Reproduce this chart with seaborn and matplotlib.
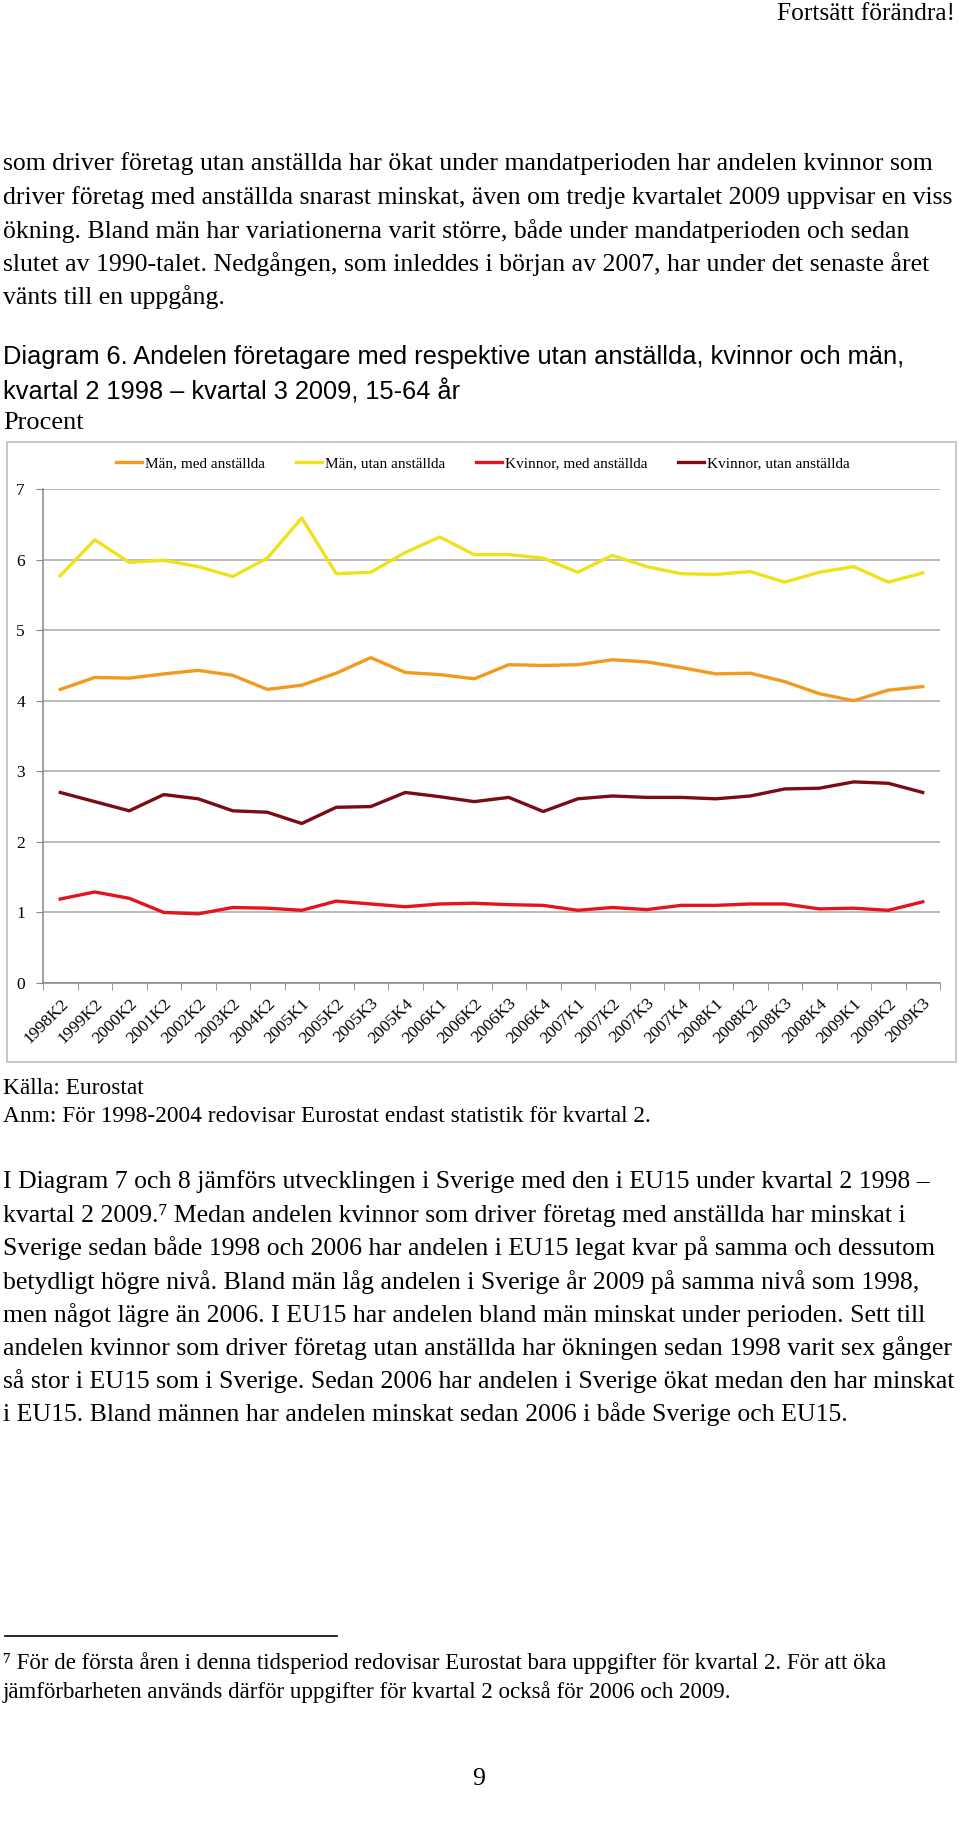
import numpy as np
import pandas as pd
import seaborn as sns
import matplotlib.pyplot as plt
from matplotlib.patches import Rectangle

W, H = 960, 1822

kvartal = ["1998K2", "1999K2", "2000K2", "2001K2", "2002K2", "2003K2", "2004K2",
           "2005K1", "2005K2", "2005K3", "2005K4", "2006K1", "2006K2", "2006K3",
           "2006K4", "2007K1", "2007K2", "2007K3", "2007K4", "2008K1", "2008K2",
           "2008K3", "2008K4", "2009K1", "2009K2", "2009K3"]
man_med = [4.16, 4.33, 4.32, 4.38, 4.43, 4.36, 4.16, 4.22, 4.39, 4.61, 4.40, 4.37, 4.31,
           4.51, 4.50, 4.51, 4.58, 4.55, 4.47, 4.38, 4.39, 4.27, 4.10, 4.00, 4.15, 4.20]
man_utan = [5.77, 6.28, 5.96, 5.99, 5.90, 5.76, 6.02, 6.59, 5.80, 5.82, 6.10, 6.32, 6.07,
            6.07, 6.02, 5.82, 6.06, 5.90, 5.80, 5.79, 5.83, 5.68, 5.82, 5.90, 5.68, 5.81]
kv_med = [1.19, 1.29, 1.20, 1.00, 0.98, 1.07, 1.06, 1.03, 1.16, 1.12, 1.08, 1.12, 1.13,
          1.11, 1.10, 1.03, 1.07, 1.04, 1.10, 1.10, 1.12, 1.12, 1.05, 1.06, 1.03, 1.15]
kv_utan = [2.70, 2.57, 2.44, 2.67, 2.61, 2.44, 2.42, 2.26, 2.49, 2.50, 2.70, 2.64, 2.57,
           2.63, 2.43, 2.61, 2.65, 2.63, 2.63, 2.61, 2.65, 2.75, 2.76, 2.85, 2.83, 2.70]

serier = ["Män, med anställda", "Män, utan anställda", "Kvinnor, med anställda", "Kvinnor, utan anställda"]
farger = ["#F39A1E", "#EFE21C", "#E3141C", "#7B0C14"]

stycke1 = [
    "som driver företag utan anställda har ökat under mandatperioden har andelen kvinnor som",
    "driver företag med anställda snarast minskat, även om tredje kvartalet 2009 uppvisar en viss",
    "ökning. Bland män har variationerna varit större, både under mandatperioden och sedan",
    "slutet av 1990-talet. Nedgången, som inleddes i början av 2007, har under det senaste året",
    "vänts till en uppgång.",
]
rubrik = ["Diagram 6. Andelen företagare med respektive utan anställda, kvinnor och män,",
          "kvartal 2 1998 – kvartal 3 2009, 15-64 år"]
stycke2 = [
    "I Diagram 7 och 8 jämförs utvecklingen i Sverige med den i EU15 under kvartal 2 1998 –",
    "kvartal 2 2009.⁷ Medan andelen kvinnor som driver företag med anställda har minskat i",
    "Sverige sedan både 1998 och 2006 har andelen i EU15 legat kvar på samma och dessutom",
    "betydligt högre nivå. Bland män låg andelen i Sverige år 2009 på samma nivå som 1998,",
    "men något lägre än 2006. I EU15 har andelen bland män minskat under perioden. Sett till",
    "andelen kvinnor som driver företag utan anställda har ökningen sedan 1998 varit sex gånger",
    "så stor i EU15 som i Sverige. Sedan 2006 har andelen i Sverige ökat medan den har minskat",
    "i EU15. Bland männen har andelen minskat sedan 2006 i både Sverige och EU15.",
]
fotnot = ["⁷ För de första åren i denna tidsperiod redovisar Eurostat bara uppgifter för kvartal 2. För att öka",
          "jämförbarheten används därför uppgifter för kvartal 2 också för 2006 och 2009."]

df = pd.DataFrame({
    "kvartal": kvartal * 4,
    "procent": man_med + man_utan + kv_med + kv_utan,
    "serie": np.repeat(serier, len(kvartal)),
})

serif = ["Liberation Serif", "DejaVu Serif"]
sans = ["Liberation Sans", "DejaVu Sans"]

fig = plt.figure(figsize=(W / 100, H / 100), dpi=100)
fig.patch.set_facecolor("white")


def txt(x, y, s, size=18.5, family=serif, **kw):
    fig.text(x / W, 1 - y / H, s, fontsize=size, family=family, va="center", **kw)


# sidhuvud och brödtext
txt(955, 14, "Fortsätt förändra!", size=18.3, ha="right")
for i, rad in enumerate(stycke1):
    txt(3, 164 + i * 33.3, rad)
for i, rad in enumerate(rubrik):
    txt(3, 357 + i * 35, rad, size=18.3, family=sans)
txt(3, 423, "Procent", size=19)

# ram runt diagrammet
fig.add_artist(Rectangle((7 / W, 1 - 1062 / H), 949 / W, 620 / H, transform=fig.transFigure,
                         fill=False, edgecolor="#C4C4C4", lw=1.3))

ax = fig.add_axes([43 / W, 1 - 983 / H, 897 / W, 494 / H])
sns.lineplot(data=df, x="kvartal", y="procent", hue="serie", palette=dict(zip(serier, farger)),
             linewidth=2.4, sort=False, ax=ax)
ax.set_xlim(-0.5, len(kvartal) - 0.5)
ax.set_ylim(0, 7)
ax.set_yticks(range(8))
ax.set_yticklabels([str(v) for v in range(8)], family=serif, fontsize=12.5)
ax.set_xticks(range(len(kvartal)))
ax.set_xticklabels(kvartal, rotation=45, ha="right", rotation_mode="anchor", family=serif, fontsize=12.5)
ax.set_xticks(np.arange(-0.5, len(kvartal), 1), minor=True)
ax.tick_params(axis="x", which="major", length=0, pad=9)
ax.tick_params(axis="x", which="minor", length=5, color="#868686", direction="out")
ax.tick_params(axis="y", length=5, color="#868686", direction="out", pad=8)
ax.yaxis.grid(True, color="#A8A8A8", lw=1.1)
ax.set_axisbelow(True)
for side in ["top", "right"]:
    ax.spines[side].set_visible(False)
for side in ["left", "bottom"]:
    ax.spines[side].set_color("#868686")
    ax.spines[side].set_linewidth(1.1)
ax.set_xlabel("")
ax.set_ylabel("")

h, l = ax.get_legend_handles_labels()
ax.legend(h, l, loc="center", bbox_to_anchor=(483 / W, 1 - 463 / H), bbox_transform=fig.transFigure,
          ncol=4, frameon=False, handlelength=1.7, handletextpad=0.2, columnspacing=2.0,
          prop={"family": serif, "size": 11})

# källa och text under diagrammet
txt(3, 1089, "Källa: Eurostat", size=16.8)
txt(3, 1116, "Anm: För 1998-2004 redovisar Eurostat endast statistik för kvartal 2.", size=16.8)
for i, rad in enumerate(stycke2):
    txt(3, 1182 + i * 33.2, rad)

fig.add_artist(plt.Line2D([5 / W, 337 / W], [1 - 1636 / H, 1 - 1636 / H], transform=fig.transFigure,
                          color="black", lw=1.2))
for i, rad in enumerate(fotnot):
    txt(3, 1663 + i * 29.5, rad, size=16.5)
txt(479, 1779, "9", size=18.5, ha="center")

fig.savefig("out.png", dpi=100, facecolor="white")
